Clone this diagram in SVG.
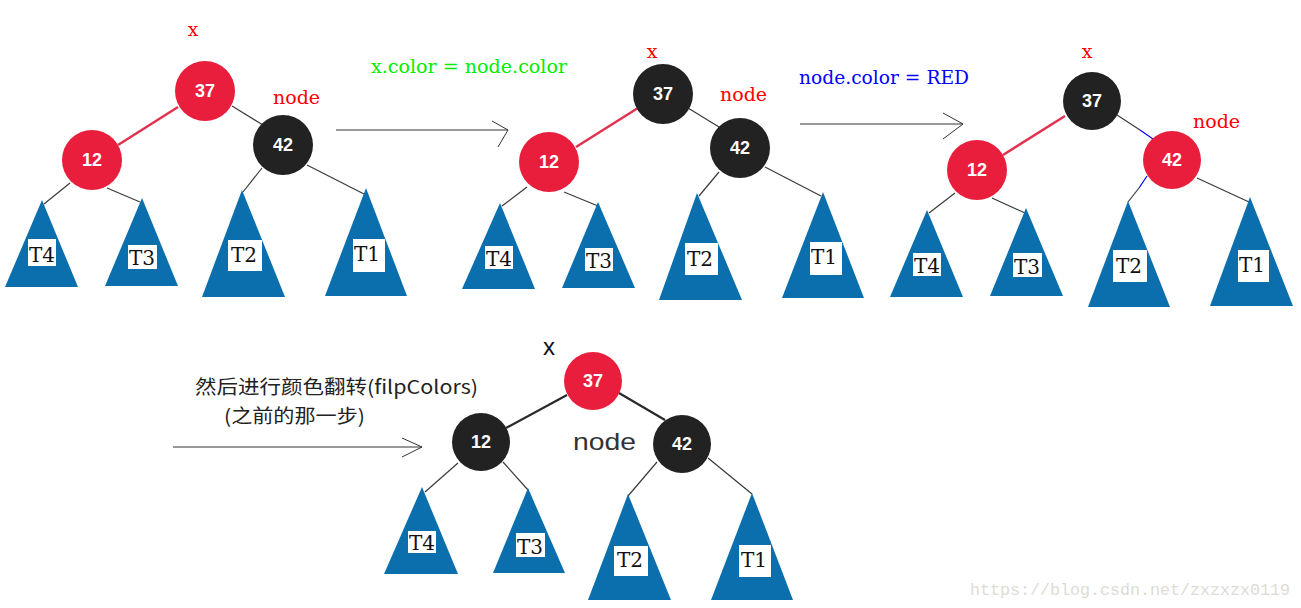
<svg xmlns="http://www.w3.org/2000/svg" width="1301" height="608" viewBox="0 0 1301 608">
<style>
.red{fill:#e91e3c}
.blk{fill:#222222}
.num{font-family:"Liberation Sans",Arial,sans-serif;font-weight:bold;font-size:18px;fill:#ffffff;text-anchor:middle}
.tri{fill:#0a6fac}
.box{fill:#ffffff}
.tl{font-family:"DejaVu Serif","Liberation Serif",serif;font-size:20px;fill:#111111;text-anchor:middle}
.lbl{font-family:"DejaVu Serif","Liberation Serif",serif;font-size:19px;fill:#ff0000}
.ln{stroke:#3a3a3a;stroke-width:1.2;fill:none}
.rl{stroke:#e0324f;stroke-width:2.5;fill:none}
.dl{stroke:#2a2a2a;stroke-width:2.2;fill:none}
.bl{stroke:#0000ff;stroke-width:1.2;fill:none}
.arr{stroke:#333333;stroke-width:1;fill:none}
</style>
<rect width="1301" height="608" fill="#ffffff"/>

<g id="connectors">
  <!-- tree 1 -->
  <line class="rl" x1="178" y1="107" x2="118" y2="145"/>
  <line class="ln" x1="232" y1="106" x2="263" y2="125"/>
  <line class="ln" x1="70" y1="183" x2="44" y2="204"/>
  <line class="ln" x1="107" y1="188" x2="140" y2="202"/>
  <line class="ln" x1="262" y1="168" x2="243" y2="192"/>
  <line class="ln" x1="307" y1="165" x2="364" y2="194"/>
  <!-- tree 2 -->
  <line class="rl" x1="638" y1="108" x2="576" y2="147"/>
  <line class="ln" x1="688" y1="108" x2="719" y2="127"/>
  <line class="ln" x1="527" y1="187" x2="502" y2="206"/>
  <line class="ln" x1="564" y1="192" x2="598" y2="206"/>
  <line class="ln" x1="719" y1="172" x2="699" y2="196"/>
  <line class="ln" x1="765" y1="167" x2="821" y2="196"/>
  <!-- tree 3 -->
  <line class="rl" x1="1065" y1="116" x2="1003" y2="155"/>
  <line class="ln" x1="1117" y1="115" x2="1140" y2="130"/>
  <line class="bl" x1="1140" y1="130" x2="1153" y2="139"/>
  <line class="bl" x1="1147" y1="176" x2="1139" y2="188"/>
  <line class="ln" x1="1139" y1="188" x2="1128" y2="202"/>
  <line class="ln" x1="1197" y1="178" x2="1249" y2="202"/>
  <line class="ln" x1="955" y1="193" x2="929" y2="213"/>
  <line class="ln" x1="992" y1="198" x2="1025" y2="213"/>
  <!-- tree 4 -->
  <line class="dl" x1="567" y1="395" x2="506" y2="428"/>
  <line class="dl" x1="619" y1="393" x2="665" y2="420"/>
  <line class="ln" x1="458" y1="463" x2="425" y2="492"/>
  <line class="ln" x1="503" y1="462" x2="528" y2="490"/>
  <line class="ln" x1="657" y1="462" x2="628" y2="496"/>
  <line class="ln" x1="708" y1="458" x2="752" y2="494"/>
  <!-- step arrows -->
  <line class="arr" x1="336" y1="130" x2="508" y2="130"/>
  <polyline class="arr" points="492,121 508,130 498,147"/>
  <line class="arr" x1="800" y1="124" x2="963" y2="124"/>
  <polyline class="arr" points="943,113 963,124 943,139"/>
  <line class="arr" x1="173" y1="447" x2="422" y2="447"/>
  <polyline class="arr" points="402,438 422,447 402,457"/>
</g>

<!-- Tree 1 -->
<g id="t1-37"><circle class="red" cx="205" cy="91" r="30"/><text class="num" x="205" y="97">37</text></g>
<g id="t1-12"><circle class="red" cx="92" cy="160" r="30"/><text class="num" x="92" y="166">12</text></g>
<g id="t1-42"><circle class="blk" cx="283" cy="145" r="30"/><text class="num" x="283" y="151">42</text></g>
<g id="t1-T4"><polygon class="tri" points="42,200 5,287 78,287"/><rect class="box" x="28" y="239" width="28" height="27"/><text class="tl" x="42" y="262">T4</text></g>
<g id="t1-T3"><polygon class="tri" points="142,198 105,286 178,286"/><rect class="box" x="128" y="245" width="29" height="24"/><text class="tl" x="142" y="265">T3</text></g>
<g id="t1-T2"><polygon class="tri" points="242,190 202,297 285,297"/><rect class="box" x="228" y="240" width="34" height="31"/><text class="tl" x="244" y="262">T2</text></g>
<g id="t1-T1"><polygon class="tri" points="366,188 325,296 407,296"/><rect class="box" x="353" y="239" width="32" height="33"/><text class="tl" x="367" y="261">T1</text></g>
<text class="lbl" x="193" y="36" text-anchor="middle">x</text>
<text class="lbl" x="273" y="104">node</text>

<!-- step text 1 -->
<text x="371" y="73" font-family="'DejaVu Serif','Liberation Serif',serif" font-size="19" fill="#00ee00" textLength="196" lengthAdjust="spacingAndGlyphs">x.color = node.color</text>

<!-- Tree 2 -->
<g id="t2-37"><circle class="blk" cx="663" cy="94" r="30"/><text class="num" x="663" y="100">37</text></g>
<g id="t2-12"><circle class="red" cx="549" cy="162" r="30"/><text class="num" x="549" y="168">12</text></g>
<g id="t2-42"><circle class="blk" cx="740" cy="148" r="30"/><text class="num" x="740" y="154">42</text></g>
<g id="t2-T4"><polygon class="tri" points="500,203 462,289 535,289"/><rect class="box" x="485" y="246" width="28" height="23"/><text class="tl" x="499" y="266">T4</text></g>
<g id="t2-T3"><polygon class="tri" points="598,202 562,288 635,288"/><rect class="box" x="585" y="248" width="28" height="23"/><text class="tl" x="599" y="268">T3</text></g>
<g id="t2-T2"><polygon class="tri" points="697,193 659,300 742,300"/><rect class="box" x="685" y="243" width="33" height="32"/><text class="tl" x="700" y="266">T2</text></g>
<g id="t2-T1"><polygon class="tri" points="823,192 782,298 864,298"/><rect class="box" x="810" y="242" width="32" height="33"/><text class="tl" x="824" y="264">T1</text></g>
<text class="lbl" x="652" y="58" text-anchor="middle">x</text>
<text class="lbl" x="720" y="101">node</text>

<!-- step text 2 -->
<text x="799" y="84" font-family="'DejaVu Serif','Liberation Serif',serif" font-size="19" fill="#0000ff" textLength="170" lengthAdjust="spacingAndGlyphs">node.color = RED</text>

<!-- Tree 3 -->
<g id="t3-37"><circle class="blk" cx="1092" cy="101" r="29"/><text class="num" x="1092" y="107">37</text></g>
<g id="t3-12"><circle class="red" cx="977" cy="170" r="30"/><text class="num" x="977" y="176">12</text></g>
<g id="t3-42"><circle class="red" cx="1172" cy="160" r="29"/><text class="num" x="1172" y="166">42</text></g>
<g id="t3-T4"><polygon class="tri" points="927,210 890,297 963,297"/><rect class="box" x="913" y="253" width="28" height="23"/><text class="tl" x="927" y="273">T4</text></g>
<g id="t3-T3"><polygon class="tri" points="1026,208 990,296 1063,296"/><rect class="box" x="1013" y="253" width="29" height="24"/><text class="tl" x="1027" y="274">T3</text></g>
<g id="t3-T2"><polygon class="tri" points="1128,201 1088,307 1170,307"/><rect class="box" x="1113" y="250" width="34" height="32"/><text class="tl" x="1129" y="273">T2</text></g>
<g id="t3-T1"><polygon class="tri" points="1250,197 1210,306 1293,306"/><rect class="box" x="1238" y="250" width="31" height="32"/><text class="tl" x="1252" y="272">T1</text></g>
<text class="lbl" x="1087" y="58" text-anchor="middle">x</text>
<text class="lbl" x="1193" y="128">node</text>

<!-- step text 3 -->
<text x="195" y="394" font-family="'Noto Sans CJK SC','Noto Sans',sans-serif" font-size="19" fill="#222222" textLength="283" lengthAdjust="spacingAndGlyphs">然后进行颜色翻转(filpColors)</text>
<text x="224" y="423" font-family="'Noto Sans CJK SC','Noto Sans',sans-serif" font-size="19" fill="#222222" textLength="141" lengthAdjust="spacingAndGlyphs">(之前的那一步)</text>

<!-- Tree 4 -->
<g id="t4-37"><circle class="red" cx="593" cy="381" r="29"/><text class="num" x="593" y="387">37</text></g>
<g id="t4-12"><circle class="blk" cx="481" cy="442" r="29"/><text class="num" x="481" y="448">12</text></g>
<g id="t4-42"><circle class="blk" cx="682" cy="444" r="29"/><text class="num" x="682" y="450">42</text></g>
<g id="t4-T4"><polygon class="tri" points="422,487 384,574 458,574"/><rect class="box" x="408" y="531" width="28" height="22"/><text class="tl" x="422" y="550">T4</text></g>
<g id="t4-T3"><polygon class="tri" points="528,488 493,573 565,573"/><rect class="box" x="516" y="533" width="29" height="24"/><text class="tl" x="530" y="554">T3</text></g>
<g id="t4-T2"><polygon class="tri" points="628,494 588,600 671,600"/><rect class="box" x="614" y="546" width="34" height="30"/><text class="tl" x="630" y="567">T2</text></g>
<g id="t4-T1"><polygon class="tri" points="752,493 711,600 793,600"/><rect class="box" x="739" y="545" width="32" height="32"/><text class="tl" x="754" y="567">T1</text></g>
<text x="549" y="355" font-family="'Liberation Sans',Arial,sans-serif" font-size="24" fill="#111111" text-anchor="middle">x</text>
<text x="573" y="450" font-family="'Liberation Sans',Arial,sans-serif" font-size="24" fill="#333333" textLength="63" lengthAdjust="spacingAndGlyphs">node</text>

<!-- watermark -->
<text x="970" y="595" font-family="'Liberation Mono','DejaVu Sans Mono',monospace" font-size="16.5" fill="#dcdcd6" textLength="320" lengthAdjust="spacingAndGlyphs">https://blog.csdn.net/zxzxzx0119</text>
</svg>
